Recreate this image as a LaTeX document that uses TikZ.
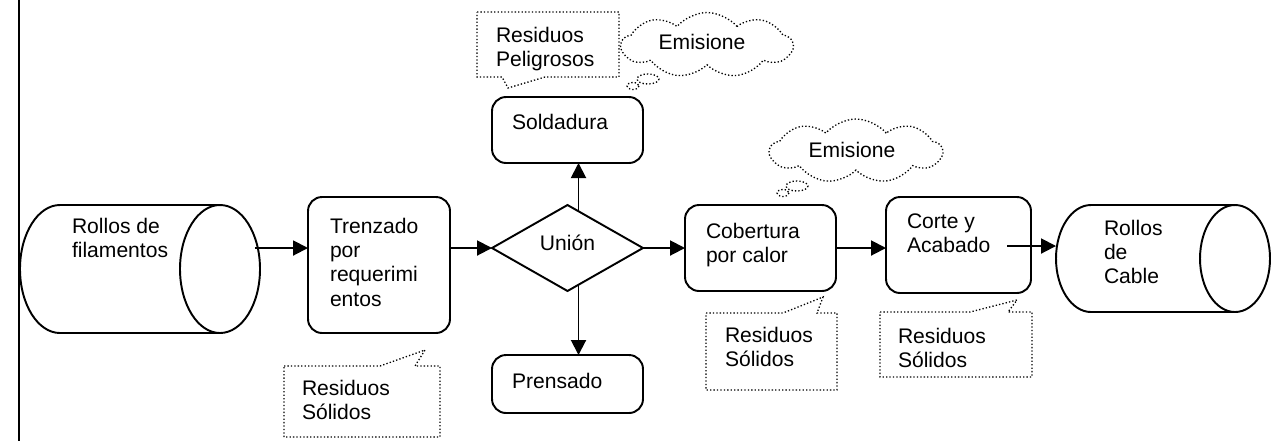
\documentclass[tikz,border=0pt]{standalone}
\usepackage{fontspec}
\setmainfont{Liberation Sans}
\usetikzlibrary{shapes.geometric,shapes.symbols,arrows.meta,calc}
\begin{document}
\begin{tikzpicture}[x=0.02cm,y=-0.02cm,
  every node/.style={font=\fontsize{12pt}{13.8pt}\selectfont, inner sep=0pt, outer sep=0pt},
  txt/.style={anchor=north west, align=left},
  procbox/.style={draw, line width=1.1pt, rounded corners=0.28cm},
  solid line/.style={line width=1.1pt},
  arr/.style={line width=1.1pt, -{Triangle[length=0.3cm,width=0.3cm]}},
  dots/.style={line width=0.75pt, dash pattern=on 0.75pt off 1.2pt},
  thought/.style={cloud, draw, dots, cloud puffs=9, cloud puff arc=100, aspect=2.6}
]
\useasboundingbox (0,0) rectangle (1287,441);

% margin rule on the left
\draw[line width=1.1pt] (19,0) -- (19,441);

% level of the main flow
\coordinate (flow) at (0,248);
\coordinate (flowb) at (0,246);

% ---- input cylinder
\node[minimum width=4.8cm, minimum height=2.56cm] (cylL) at (140,269) {};
\draw[solid line] (220,205) -- (60,205) arc[start angle=270,end angle=90,x radius=40,y radius=64] -- (220,333);
\draw[solid line] (220,269) ellipse[x radius=40,y radius=64];
\node[txt] (tcylL) at (72,218) {Rollos de\\filamentos};

% ---- process boxes
\node[procbox, minimum width=2.84cm, minimum height=2.72cm] (trz) at (379,265) {};
\node[txt] (ttrz) at (330,218) {Trenzado\\por\\requerimi\\entos};

\node[shape=diamond, draw, line width=1.1pt, minimum width=3.02cm, minimum height=1.72cm] (uni) at (567.5,248) {};
\node (tuni) at (567.5,243) {Unión};

\node[procbox, minimum width=3.02cm, minimum height=1.32cm] (sold) at (567.5,130) {};
\node[txt] (tsold) at (512,114) {Soldadura};

\node[procbox, minimum width=3.02cm, minimum height=1.16cm] (pren) at (567.5,384) {};
\node[txt] (tpren) at (512,373) {Prensado};

\node[procbox, minimum width=3.02cm, minimum height=1.72cm] (cob) at (760.5,248) {};
\node[txt] (tcob) at (706,223) {Cobertura\\por calor};

\node[procbox, minimum width=2.9cm, minimum height=1.92cm] (corte) at (958.5,245) {};
\node[txt] (tcorte) at (907,214) {Corte y\\Acabado};

% ---- output cylinder
\node[minimum width=4.28cm, minimum height=2.14cm] (cylR) at (1163,258.5) {};
\draw[solid line] (1235,205) -- (1091,205) arc[start angle=270,end angle=90,x radius=35,y radius=53.5] -- (1235,312);
\draw[solid line] (1235,258.5) ellipse[x radius=35,y radius=53.5];
\node[txt] (tcylR) at (1104,220) {Rollos\\de\\Cable};

% ---- flow connectors
\draw[arr] ([xshift=-0.1cm]cylL.east |- flow) -- (trz.west |- flow);
\draw[arr] (trz.east |- flow) -- (uni.west);
\draw[arr] (uni.east) -- (cob.west |- flow);
\draw[arr] (cob.east |- flow) -- (corte.west |- flow);
\draw[arr] ([xshift=-0.48cm]corte.east |- flowb) -- (cylR.west |- flowb);
\coordinate (ut) at ([shift={(11,6)}]uni.north);
\coordinate (ub) at ([shift={(11,-6)}]uni.south);
\draw[arr] (ut) -- (ut |- sold.south);
\draw[arr] (ub) -- (ub |- pren.north);

% ---- callouts: waste
\node[minimum width=3.12cm, minimum height=1.42cm] (rs1) at (362,401.5) {};
\draw[dots] (rs1.north west) -- (380,366) -- (425,350) -- (415,366) -- (rs1.north east) -- (rs1.south east) -- (rs1.south west) -- cycle;
\node[txt] (trs1) at (302,380) {Residuos\\Sólidos};

\node[minimum width=2.84cm, minimum height=1.3cm] (rp) at (548,44.5) {};
\draw[dots] (rp.north west) -- (rp.north east) -- (rp.south east) -- (545,77) -- (508,88) -- (502,77) -- (rp.south west) -- cycle;
\node[txt] (trp) at (496,27) {Residuos\\Peligrosos};

\node[minimum width=2.62cm, minimum height=1.54cm] (rs2) at (771.5,351.5) {};
\draw[dots] (rs2.north west) -- (783,313) -- (823,297) -- (817,313) -- (rs2.north east) -- (rs2.south east) -- (rs2.south west) -- cycle;
\node[txt] (trs2) at (725,327) {Residuos\\Sólidos};

\node[minimum width=3.04cm, minimum height=1.3cm] (rs3) at (956,344.5) {};
\draw[dots] (rs3.north west) -- (970,312) -- (1017,300) -- (1008,312) -- (rs3.north east) -- (rs3.south east) -- (rs3.south west) -- cycle;
\node[txt] (trs3) at (898,328) {Residuos\\Sólidos};

% ---- emission clouds
\node[thought, minimum width=3.42cm, minimum height=1.3cm] (em1) at (707,45) {};
\node (tem1) at (702,42) {Emisione};
\draw[dots] (648,79) ellipse[x radius=11,y radius=5];
\draw[dots] (633,86) ellipse[x radius=6,y radius=3.5];

\node[thought, minimum width=3.44cm, minimum height=1.28cm] (em2) at (856,151) {};
\node (tem2) at (852,150) {Emisione};
\draw[dots] (797,186) ellipse[x radius=11,y radius=5];
\draw[dots] (783,193) ellipse[x radius=6,y radius=3.5];
\end{tikzpicture}
\end{document}
